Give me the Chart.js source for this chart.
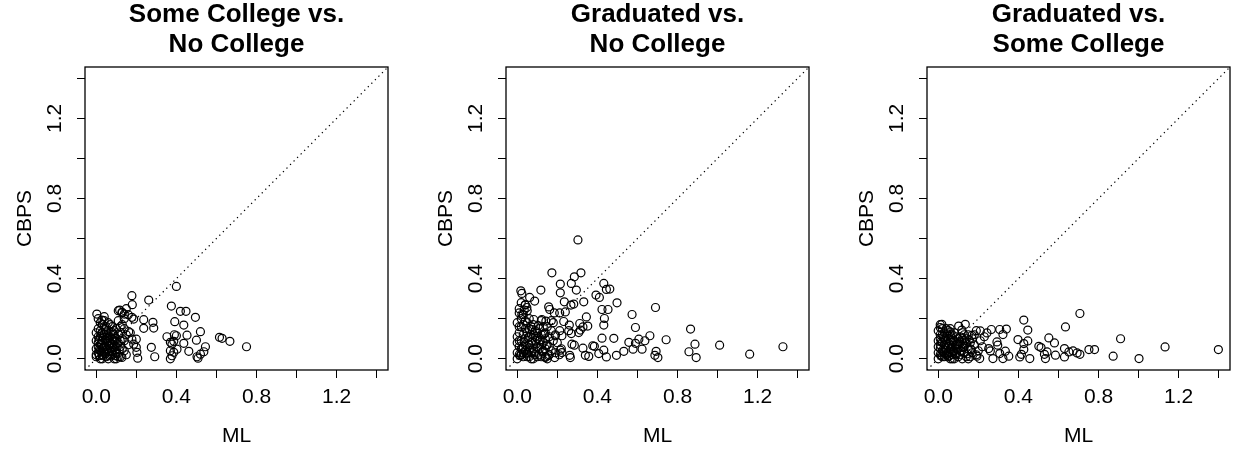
<!DOCTYPE html>
<html>
<head>
<meta charset="utf-8">
<script src="https://cdn.jsdelivr.net/npm/chart.js@4/dist/chart.umd.min.js"></script>
<style>
  body { margin: 0; background: #fff; width: 1241px; height: 453px; overflow: hidden; position: relative; }
  .panel { position: absolute; top: 0; width: 473px; height: 453px; }
</style>
</head>
<body>
<div class="panel" style="left:0px"><canvas id="c0" width="473" height="453"></canvas></div>
<div class="panel" style="left:421px"><canvas id="c1" width="473" height="453"></canvas></div>
<div class="panel" style="left:842px"><canvas id="c2" width="473" height="453"></canvas></div>
<script>
// panel titles (two lines each)
const titles = [
  ['Some College vs.', 'No College'],
  ['Graduated vs.', 'No College'],
  ['Graduated vs.', 'Some College']
];
const xTitle = 'ML';
const yTitle = 'CBPS';

// axis ticks, same on both axes
const tickValues = [0, 0.2, 0.4, 0.6, 0.8, 1.0, 1.2, 1.4];
const tickLabels = ['0.0', '', '0.4', '', '0.8', '', '1.2', ''];
const axisMin = -0.056, axisMax = 1.456;   // 0..1.4 plus 4% each side

// identity line y = x
const diagonal = [[axisMin, axisMin], [axisMax, axisMax]];

// [ML, CBPS] pairs
const ptsSomeNo = [
  [0.40,0.361],[0.178,0.315],[0.262,0.293],[0.18,0.27],[0.375,0.263],[0.42,0.237],[0.448,0.237],
  [0.117,0.243],[0.128,0.232],[0.14,0.223],[0.003,0.223],[0.495,0.207],[0.178,0.207],[0.187,0.198],
  [0.237,0.195],[0.283,0.182],[0.287,0.153],[0.028,0.193],[0.392,0.185],[0.437,0.168],[0.237,0.152],
  [0.52,0.135],[0.162,0.135],[0.453,0.118],[0.353,0.11],[0.39,0.12],[0.40,0.115],[0.615,0.107],
  [0.628,0.102],[0.667,0.087],[0.75,0.06],[0.50,0.093],[0.387,0.087],[0.378,0.073],[0.37,0.082],
  [0.437,0.077],[0.178,0.098],[0.2,0.098],[0.187,0.073],[0.275,0.057],[0.545,0.06],[0.537,0.035],
  [0.52,0.023],[0.503,0.01],[0.508,0.003],[0.462,0.037],[0.37,0.04],[0.387,0.032],[0.378,0.015],
  [0.37,0.0],[0.403,0.048],[0.2,0.057],[0.203,0.032],[0.207,0.003],[0.292,0.01],[0.128,0.007],
  [0.00,0.01],[0.01,0.03],[0.02,0.00],[0.00,0.05],[0.03,0.02],[0.01,0.08],[0.04,0.06],[0.02,0.11],
  [0.05,0.01],[0.00,0.13],[0.06,0.04],[0.03,0.09],[0.07,0.02],[0.01,0.15],[0.08,0.07],[0.04,0.12],
  [0.09,0.00],[0.02,0.18],[0.05,0.10],[0.10,0.03],[0.06,0.14],[0.11,0.08],[0.03,0.05],[0.07,0.11],
  [0.12,0.01],[0.08,0.16],[0.00,0.09],[0.13,0.05],[0.09,0.12],[0.04,0.03],[0.14,0.09],[0.10,0.15],
  [0.05,0.07],[0.11,0.19],[0.06,0.00],[0.12,0.13],[0.01,0.06],[0.07,0.17],[0.13,0.10],[0.02,0.04],
  [0.08,0.02],[0.14,0.15],[0.03,0.13],[0.09,0.06],[0.15,0.02],[0.04,0.16],[0.10,0.10],[0.00,0.02],
  [0.05,0.04],[0.11,0.12],[0.06,0.09],[0.12,0.06],[0.02,0.07],[0.07,0.05],[0.13,0.17],[0.01,0.11],
  [0.08,0.10],[0.14,0.04],[0.03,0.00],[0.09,0.14],[0.04,0.19],[0.10,0.06],[0.05,0.13],[0.11,0.01],
  [0.06,0.18],[0.12,0.09],[0.15,0.12],[0.02,0.14],[0.07,0.08],[0.08,0.04],[0.03,0.17],[0.09,0.09],
  [0.10,0.00],[0.01,0.20],[0.05,0.16],[0.12,0.16],[0.16,0.07],[0.14,0.20],[0.16,0.22],[0.13,0.23],
  [0.04,0.21],[0.11,0.24],[0.15,0.25],[0.17,0.13],
  [0.015,0.015],[0.025,0.035],[0.035,0.055],[0.045,0.025],[0.055,0.085],[0.065,0.065],[0.075,0.035],
  [0.085,0.095],[0.095,0.045],[0.105,0.075],[0.015,0.095],[0.025,0.125],[0.035,0.105],[0.045,0.145],
  [0.055,0.115],[0.065,0.015],[0.075,0.135],[0.085,0.055],[0.095,0.105],[0.105,0.025],[0.015,0.045],
  [0.025,0.075],[0.045,0.095],[0.065,0.105],[0.085,0.125],[0.035,0.015],[0.055,0.045],[0.075,0.075],
  [0.095,0.015],[0.115,0.045]
];

const ptsGradNo = [
  [0.303,0.593],[0.173,0.429],[0.318,0.429],[0.285,0.409],[0.27,0.376],[0.295,0.343],[0.215,0.373],
  [0.215,0.329],[0.432,0.376],[0.445,0.346],[0.462,0.348],[0.018,0.339],[0.023,0.326],[0.118,0.343],
  [0.062,0.306],[0.087,0.288],[0.04,0.268],[0.048,0.256],[0.035,0.243],[0.01,0.229],[0.023,0.221],
  [0.393,0.318],[0.41,0.306],[0.235,0.284],[0.268,0.268],[0.282,0.273],[0.332,0.284],[0.498,0.279],
  [0.157,0.259],[0.162,0.246],[0.185,0.229],[0.212,0.229],[0.24,0.234],[0.423,0.246],[0.453,0.246],
  [0.69,0.256],[0.573,0.221],[0.435,0.201],[0.432,0.168],[0.345,0.209],[0.082,0.196],[0.123,0.196],
  [0.143,0.188],[0.232,0.186],[0.26,0.168],[0.312,0.176],[0.328,0.159],[0.352,0.163],[0.59,0.156],
  [0.865,0.148],[0.315,0.143],[0.307,0.131],[0.27,0.126],[0.257,0.14],[0.212,0.14],[0.223,0.115],
  [0.19,0.115],[0.662,0.115],[0.637,0.09],[0.607,0.098],[0.59,0.077],[0.557,0.082],[0.423,0.103],
  [0.482,0.102],[0.743,0.095],[0.887,0.073],[0.857,0.035],[0.893,0.006],[1.01,0.068],[1.16,0.023],
  [1.326,0.06],[0.273,0.073],[0.285,0.068],[0.377,0.065],[0.385,0.062],[0.328,0.053],[0.578,0.048],
  [0.623,0.048],[0.532,0.037],[0.432,0.043],[0.407,0.026],[0.445,0.009],[0.495,0.017],[0.693,0.037],
  [0.687,0.017],[0.702,0.006],[0.34,0.017],[0.357,0.012],[0.262,0.017],[0.265,0.006],[0.215,0.043],
  [0.223,0.031],[0.187,0.006],[0.14,0.006],
  [0.00,0.00],[0.01,0.02],[0.02,0.05],[0.00,0.08],[0.03,0.01],[0.04,0.10],[0.01,0.13],[0.05,0.03],
  [0.02,0.16],[0.06,0.07],[0.03,0.12],[0.07,0.00],[0.00,0.18],[0.08,0.05],[0.04,0.15],[0.09,0.09],
  [0.05,0.01],[0.10,0.13],[0.01,0.06],[0.11,0.02],[0.06,0.11],[0.12,0.07],[0.02,0.20],[0.13,0.04],
  [0.07,0.16],[0.14,0.10],[0.03,0.03],[0.15,0.00],[0.08,0.12],[0.16,0.06],[0.04,0.07],[0.17,0.14],
  [0.09,0.02],[0.18,0.09],[0.05,0.18],[0.19,0.03],[0.10,0.06],[0.00,0.11],[0.11,0.15],[0.06,0.04],
  [0.12,0.19],[0.01,0.09],[0.13,0.12],[0.07,0.08],[0.14,0.01],[0.02,0.02],[0.15,0.16],[0.08,0.00],
  [0.16,0.11],[0.03,0.17],[0.17,0.04],[0.09,0.14],[0.18,0.18],[0.04,0.04],[0.10,0.10],[0.05,0.13],
  [0.11,0.05],[0.00,0.03],[0.12,0.01],[0.06,0.15],[0.13,0.08],[0.01,0.16],[0.14,0.13],[0.07,0.03],
  [0.15,0.07],[0.02,0.09],[0.16,0.02],[0.08,0.17],[0.03,0.06],[0.09,0.11],[0.10,0.01],[0.04,0.19],
  [0.11,0.09],[0.05,0.06],[0.12,0.12],[0.06,0.01],[0.13,0.16],[0.07,0.12],[0.14,0.05],[0.20,0.08],
  [0.19,0.12],[0.21,0.02],[0.22,0.05],[0.17,0.19],[0.06,0.20],[0.03,0.22],[0.01,0.25],[0.02,0.28],
  [0.04,0.27],[0.05,0.24],
  [0.015,0.015],[0.025,0.045],[0.035,0.085],[0.045,0.025],[0.055,0.105],[0.065,0.055],[0.075,0.145],
  [0.085,0.035],[0.095,0.075],[0.105,0.165],[0.115,0.095],[0.125,0.035],[0.135,0.125],[0.145,0.065],
  [0.155,0.015]
];

const ptsGradSome = [
  [0.707,0.226],[0.427,0.193],[0.635,0.159],[0.447,0.143],[0.018,0.172],[0.01,0.156],[0.102,0.163],
  [0.135,0.172],[0.06,0.134],[0.118,0.143],[0.265,0.146],[0.307,0.146],[0.34,0.148],[0.323,0.121],
  [0.21,0.139],[0.243,0.129],[0.168,0.117],[0.398,0.096],[0.447,0.089],[0.427,0.076],[0.552,0.104],
  [0.58,0.079],[0.91,0.10],[1.132,0.059],[1.398,0.046],[0.293,0.084],[0.297,0.068],[0.502,0.062],
  [0.513,0.056],[0.543,0.034],[0.53,0.022],[0.63,0.051],[0.652,0.034],[0.673,0.039],[0.693,0.029],
  [0.707,0.022],[0.752,0.046],[0.78,0.046],[0.873,0.013],[1.002,0.001],[0.415,0.022],[0.407,0.009],
  [0.457,0.001],[0.535,0.001],[0.585,0.018],[0.63,0.009],[0.427,0.046],[0.273,0.001],[0.323,0.001],
  [0.352,0.013],[0.307,0.026],[0.335,0.038],[0.26,0.039],[0.252,0.051],[0.193,0.013],[0.207,0.001],
  [0.00,0.00],[0.01,0.02],[0.02,0.04],[0.00,0.06],[0.03,0.01],[0.04,0.08],[0.01,0.10],[0.05,0.03],
  [0.02,0.12],[0.06,0.05],[0.03,0.07],[0.07,0.00],[0.00,0.14],[0.08,0.04],[0.04,0.11],[0.09,0.07],
  [0.05,0.01],[0.10,0.10],[0.01,0.05],[0.11,0.02],[0.06,0.09],[0.12,0.06],[0.02,0.15],[0.13,0.03],
  [0.07,0.12],[0.14,0.08],[0.03,0.03],[0.15,0.00],[0.08,0.09],[0.16,0.05],[0.04,0.05],[0.17,0.10],
  [0.09,0.02],[0.18,0.07],[0.05,0.14],[0.19,0.02],[0.10,0.05],[0.00,0.09],[0.11,0.11],[0.06,0.03],
  [0.12,0.13],[0.01,0.07],[0.13,0.09],[0.07,0.06],[0.14,0.01],[0.02,0.01],[0.15,0.12],[0.08,0.00],
  [0.16,0.08],[0.03,0.13],[0.17,0.03],[0.09,0.11],[0.18,0.12],[0.04,0.02],[0.10,0.07],[0.05,0.10],
  [0.11,0.04],[0.00,0.03],[0.12,0.00],[0.06,0.12],[0.13,0.06],[0.01,0.12],[0.14,0.10],[0.07,0.02],
  [0.15,0.05],[0.02,0.08],[0.16,0.01],[0.08,0.13],[0.03,0.10],[0.09,0.05],[0.10,0.01],[0.04,0.15],
  [0.11,0.08],[0.05,0.06],[0.12,0.10],[0.06,0.00],[0.13,0.12],[0.20,0.04],[0.21,0.09],[0.19,0.14],
  [0.22,0.06],[0.23,0.11],[0.01,0.17],[0.06,0.15],
  [0.015,0.015],[0.025,0.035],[0.035,0.055],[0.045,0.025],[0.055,0.075],[0.065,0.045],[0.075,0.035],
  [0.085,0.065],[0.095,0.045],[0.105,0.085],[0.015,0.085],[0.025,0.105],[0.035,0.095],[0.045,0.125],
  [0.055,0.015],[0.065,0.105],[0.075,0.085],[0.085,0.025],[0.095,0.075],[0.115,0.035],[0.125,0.055],
  [0.135,0.075],[0.145,0.025],[0.155,0.095],[0.165,0.045]
];

const panelData = [ptsSomeNo, ptsGradNo, ptsGradSome];
const fontFamily = "'Liberation Sans', Arial, Helvetica, sans-serif";

// draws the R-style box round the plot region
const plotBox = {
  id: 'plotBox',
  afterDraw(chart) {
    const a = chart.chartArea, ctx = chart.ctx;
    ctx.save();
    ctx.strokeStyle = '#000';
    ctx.lineWidth = 1.3;
    ctx.strokeRect(a.left, a.top, a.right - a.left, a.bottom - a.top);
    ctx.restore();
  }
};

function setTicks(scale) {
  scale.ticks = tickValues.map(v => ({ value: v }));
}

function makePanel(i) {
  const ctx = document.getElementById('c' + i).getContext('2d');
  return new Chart(ctx, {
    type: 'scatter',
    data: {
      datasets: [
        {
          data: diagonal.map(p => ({ x: p[0], y: p[1] })),
          showLine: true,
          borderColor: '#000',
          borderWidth: 1.2,
          borderDash: [1.3, 3.7],
          pointRadius: 0,
          fill: false
        },
        {
          data: panelData[i].map(p => ({ x: p[0], y: p[1] })),
          pointRadius: 4,
          pointBorderWidth: 1.2,
          pointBorderColor: '#000',
          pointBackgroundColor: 'rgba(0,0,0,0)',
          showLine: false
        }
      ]
    },
    options: {
      responsive: false,
      animation: false,
      devicePixelRatio: 1,
      layout: { padding: 0 },
      plugins: {
        legend: { display: false },
        tooltip: { enabled: false },
        title: {
          display: true,
          text: titles[i],
          color: '#000',
          font: { family: fontFamily, size: 26, weight: 'bold', lineHeight: '30px' },
          padding: { top: 0, bottom: 7 }
        }
      },
      scales: {
        x: {
          type: 'linear',
          min: axisMin, max: axisMax,
          afterBuildTicks: setTicks,
          afterFit: s => { s.height = 83; },
          border: { display: false },
          grid: { drawOnChartArea: false, drawTicks: true, tickLength: 8, color: '#000', lineWidth: 1 },
          ticks: {
            autoSkip: false, maxRotation: 0, minRotation: 0, padding: 7,
            color: '#000', font: { family: fontFamily, size: 21 },
            callback: (v, idx) => tickLabels[idx]
          },
          title: {
            display: true, text: xTitle, color: '#000',
            font: { family: fontFamily, size: 21, lineHeight: 1.2 },
            padding: { top: 0, bottom: 4.4 }
          }
        },
        y: {
          type: 'linear',
          position: 'left',
          min: axisMin, max: axisMax,
          afterBuildTicks: setTicks,
          afterFit: s => { s.width = 85; },
          border: { display: false },
          grid: { drawOnChartArea: false, drawTicks: true, tickLength: 8, color: '#000', lineWidth: 1 },
          ticks: {
            autoSkip: false, minRotation: 90, maxRotation: 90, crossAlign: 'center', padding: 7.4,
            color: '#000', font: { family: fontFamily, size: 21 },
            callback: (v, idx) => tickLabels[idx]
          },
          title: {
            display: true, text: yTitle, color: '#000',
            font: { family: fontFamily, size: 21, lineHeight: 1.2 },
            padding: { top: 12.4, bottom: 0 }
          }
        },
        // empty axis on the right so the title centres over the plot box
        yPad: {
          type: 'linear',
          position: 'right',
          display: true,
          afterFit: s => { s.width = 85; },
          border: { display: false },
          grid: { display: false },
          ticks: { display: false }
        }
      }
    },
    plugins: [plotBox]
  });
}

[0, 1, 2].forEach(makePanel);
</script>
</body>
</html>
